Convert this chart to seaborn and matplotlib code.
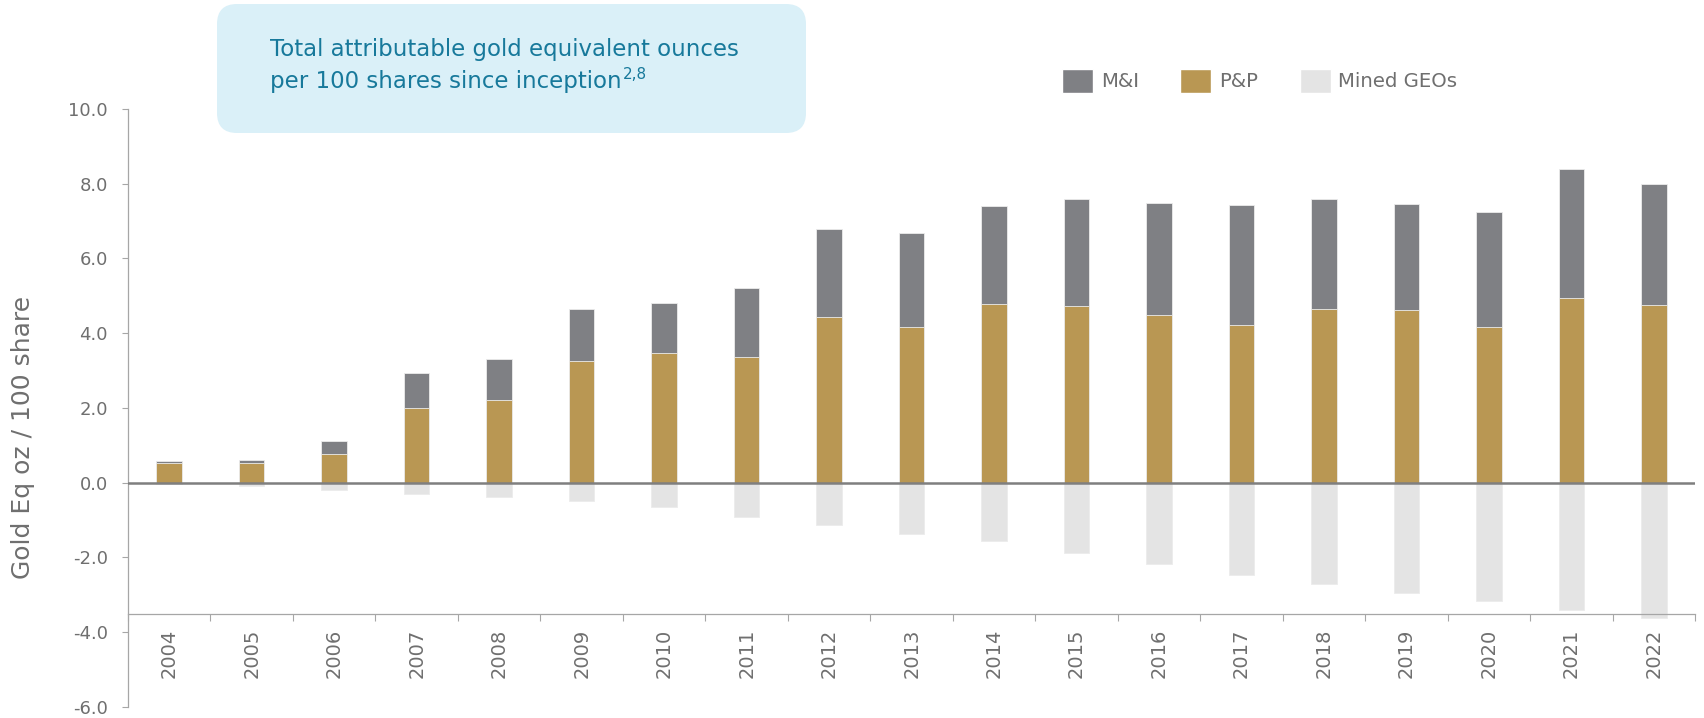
"""
Gold equivalent ounces per 100 shares, 2004-2022
Stacked bars (P&P + M&I) above zero, mined GEOs below.
"""
import numpy as np
import seaborn as sns
import matplotlib.pyplot as plt
from matplotlib.patches import Patch, FancyBboxPatch

years = [str(y) for y in range(2004, 2023)]
pAndP = [0.52, 0.53, 0.77, 2.00, 2.20, 3.26, 3.46, 3.35, 4.44, 4.17,
         4.77, 4.73, 4.48, 4.23, 4.64, 4.62, 4.16, 4.95, 4.75]
mAndI = [0.06, 0.09, 0.35, 0.93, 1.11, 1.38, 1.34, 1.86, 2.36, 2.51,
         2.64, 2.86, 2.99, 3.21, 2.95, 2.83, 3.07, 3.44, 3.24]
minedGeos = [-0.03, -0.09, -0.19, -0.31, -0.38, -0.48, -0.66, -0.91, -1.13, -1.36,
             -1.56, -1.87, -2.17, -2.46, -2.71, -2.94, -3.16, -3.41, -3.61]
yTicks = [-6, -4, -2, 0, 2, 4, 6, 8, 10]

colMI = "#7f8084"
colPP = "#b99753"
colMined = "#e4e4e4"
colText = "#6f6f6f"
colAxis = "#a6a6a6"

sns.set_style("white")
plt.rcParams["font.family"] = ["DejaVu Sans"]
plt.rcParams["axes.unicode_minus"] = False

totals = np.array(pAndP) + np.array(mAndI)

fig = plt.figure(figsize=(17.04, 7.18), dpi=100)
ax = fig.add_axes([0.0751, 0.01532, 0.9198, 0.8330])

barKw = dict(width=0.31, saturation=1, edgecolor="#ececec", linewidth=0.6, ax=ax)
sns.barplot(x=years, y=totals, color=colMI, **barKw)
sns.barplot(x=years, y=pAndP, color=colPP, **barKw)
sns.barplot(x=years, y=minedGeos, color=colMined, **barKw)

ax.axhline(0, color="#7f7f7f", lw=1.8, zorder=5)

ax.set_xlim(-0.5, len(years) - 0.5)
ax.set_ylim(-6, 10)
ax.set_yticks(yTicks)
ax.yaxis.set_major_formatter("{x:.1f}")
ax.tick_params(axis="y", length=4.5, width=0.8, color=colAxis, pad=10,
               labelsize=13, labelcolor=colText, left=True)

# category axis sits at -3.5, with separators between years
ax.spines["bottom"].set_position(("data", -3.5))
ax.set_xticks(range(len(years)), labels=years, rotation=90)
ax.set_xticks(np.arange(-0.5, len(years), 1), minor=True)
ax.tick_params(axis="x", which="major", length=0, pad=11, labelsize=14, labelcolor=colText)
ax.tick_params(axis="x", which="minor", length=5, width=0.8, color=colAxis, bottom=True)
for lbl in ax.get_xticklabels():
    lbl.set_va("top")

for side in ["top", "right"]:
    ax.spines[side].set_visible(False)
for side in ["left", "bottom"]:
    ax.spines[side].set_color(colAxis)
    ax.spines[side].set_linewidth(0.9)

ax.set_xlabel("")
ax.set_ylabel("Gold Eq oz / 100 share", fontsize=18, color=colText)
ax.yaxis.set_label_coords(-0.0593, 0.45)

# title box
box = FancyBboxPatch((2.17, 5.85), 5.89, 1.29, boxstyle="round,pad=0,rounding_size=0.2",
                     transform=fig.dpi_scale_trans, facecolor="#daf0f8", edgecolor="none")
fig.patches.append(box)
titleCol = "#17799b"
fig.text(270 / 1704, 1 - 56 / 718, "Total attributable gold equivalent ounces",
         fontsize=16.5, color=titleCol, va="baseline")
t2 = fig.text(270 / 1704, 1 - 88 / 718, "per 100 shares since inception",
              fontsize=16.5, color=titleCol, va="baseline")
fig.canvas.draw()
bb = t2.get_window_extent(fig.canvas.get_renderer())
fig.text(bb.x1 / 1704 + 0.0008, 1 - 79 / 718, "2,8", fontsize=11, color=titleCol, va="baseline")

# legend
handles = [Patch(facecolor=colMI), Patch(facecolor=colPP), Patch(facecolor=colMined)]
fig.legend(handles, ["M&I", "P&P", "Mined GEOs"], loc="center left",
           bbox_to_anchor=(1062 / 1704, 1 - 81 / 718), ncol=3, frameon=False,
           fontsize=14.2, labelcolor=colText, handlelength=1.57, handleheight=1.57,
           handletextpad=0.4, columnspacing=2.1, borderpad=0, borderaxespad=0)

plt.savefig("out.png", dpi=100)
